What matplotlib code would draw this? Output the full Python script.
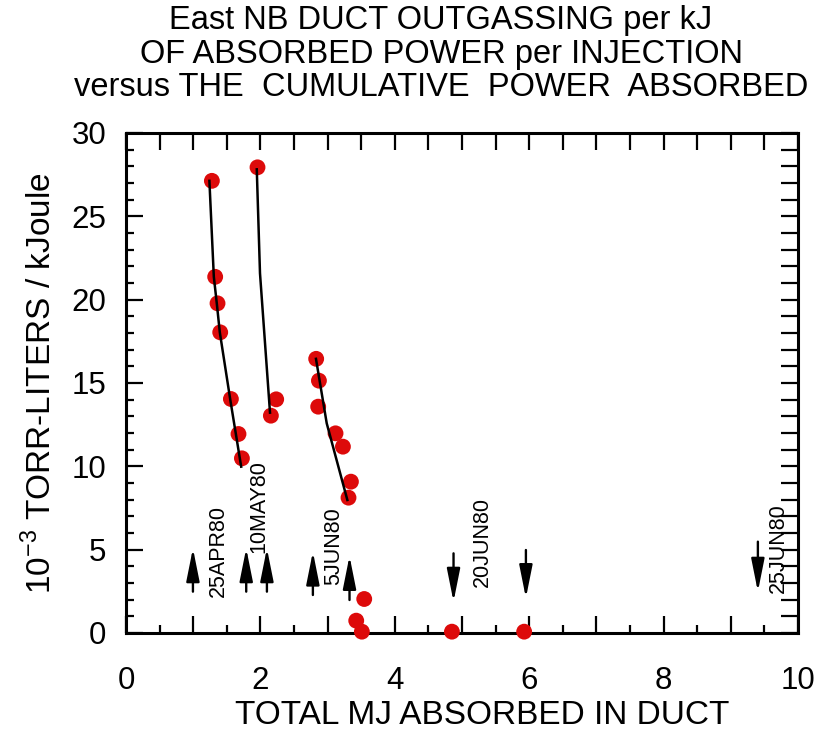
import numpy as np
import matplotlib.pyplot as plt
from matplotlib.ticker import MultipleLocator, FuncFormatter

plt.rcParams['font.family'] = ['Liberation Sans', 'DejaVu Sans']

# measured points (MJ absorbed, 1e-3 torr-l / kJ)
mj_points = [1.278, 1.327, 1.362, 1.402, 1.561, 1.674, 1.725,
             1.957, 2.156, 2.235,
             2.830, 2.871, 2.860, 3.118, 3.228, 3.347, 3.311,
             3.545, 3.426, 3.510, 4.850, 5.925]
outgas_points = [27.13, 21.37, 19.78, 18.04, 14.04, 11.94, 10.48,
                 27.94, 13.04, 14.02,
                 16.45, 15.14, 13.58, 11.98, 11.18, 9.08, 8.12,
                 2.04, 0.74, 0.08, 0.08, 0.08]

# hand-drawn fit curves
fit1_x = [1.241, 1.307, 1.351, 1.396, 1.550, 1.714]
fit1_y = [27.13, 21.37, 19.78, 18.04, 14.04, 9.98]
fit2_x = [1.946, 1.994, 2.143]
fit2_y = [27.82, 21.58, 13.22]
fit3_x = [2.827, 2.987, 3.294]
fit3_y = [16.45, 12.58, 7.98]

# injection-period arrows
up_x = [0.996, 1.789, 2.097, 2.781, 3.326]
up_tail = [2.48, 2.48, 2.48, 2.28, 1.98]
up_tip = [5.08, 5.08, 5.08, 4.88, 4.62]
down_x = [4.874, 5.951, 9.403]
down_tail = [4.78, 4.98, 5.48]
down_tip = [1.88, 2.10, 2.48]

# date labels
date_text = ['25APR80', '10MAY80', '5JUN80', '20JUN80', '25JUN80']
date_x = [1.372, 1.972, 3.088, 5.296, 9.71]
date_y = [2.18, 4.80, 2.88, 2.78, 2.40]

W, H = 819, 734
fig = plt.figure(figsize=(W / 100, H / 100), dpi=100)
ax = fig.add_axes([126 / W, 1 - 633 / H, (798 - 126) / W, (633 - 133) / H])

for fx, fy in [(fit1_x, fit1_y), (fit2_x, fit2_y), (fit3_x, fit3_y)]:
    ax.plot(fx, fy, color='black', lw=1.8, zorder=4)
ax.scatter(mj_points, outgas_points, s=130, color='#dd0a0a', edgecolors='none',
           zorder=3, clip_on=False)

astyle = '-|>,head_length=1.0,head_width=0.2'
for x, t0, t1 in zip(up_x + down_x, up_tail + down_tail, up_tip + down_tip):
    ax.annotate('', xy=(x, t1), xytext=(x, t0),
                arrowprops=dict(arrowstyle=astyle, color='black', lw=1.7,
                                mutation_scale=20, shrinkA=0, shrinkB=0))

for t, x, y in zip(date_text, date_x, date_y):
    ax.text(x, y, t, rotation=90, ha='center', va='bottom', fontsize=15.5)

ax.set_xlim(0, 10)
ax.set_ylim(0, 30)
ax.xaxis.set_major_locator(MultipleLocator(1))
ax.xaxis.set_minor_locator(MultipleLocator(0.5))
ax.xaxis.set_major_formatter(FuncFormatter(lambda v, p: '%d' % v if int(round(v)) % 2 == 0 else ''))
ax.yaxis.set_major_locator(MultipleLocator(5))
ax.yaxis.set_minor_locator(MultipleLocator(1))
ax.tick_params(which='major', direction='in', length=12, width=1.6, labelsize=22.5, pad=24)
ax.tick_params(which='minor', direction='in', length=6, width=1.6)
ax.tick_params(axis='y', which='major', pad=14)
for s in ax.spines.values():
    s.set_linewidth(2.2)

top = ax.secondary_xaxis('top')
top.set_xticks(np.arange(0, 10.01, 0.5))
top.tick_params(direction='in', length=12, width=1.6)
top.set_xticklabels([])
right = ax.secondary_yaxis('right')
right.set_yticks(np.arange(0, 30.01, 1))
right.tick_params(direction='in', length=12, width=1.6)
right.set_yticklabels([])

ax.set_xlabel('TOTAL MJ ABSORBED IN DUCT', fontsize=24)
ax.xaxis.set_label_coords(0.53, -0.135)
ax.set_ylabel(r'10$^{\mathregular{-3}}$ TORR-LITERS / kJoule', fontsize=24, labelpad=10)

title_lines = ['East NB DUCT OUTGASSING per kJ',
               'OF ABSORBED POWER per INJECTION',
               'versus THE  CUMULATIVE  POWER  ABSORBED']
title_base = [29, 63, 96]
for line, yb in zip(title_lines, title_base):
    fig.text(441 / W, 1 - yb / H, line, ha='center', va='baseline', fontsize=23.5)

fig.savefig('out.png', dpi=100)
